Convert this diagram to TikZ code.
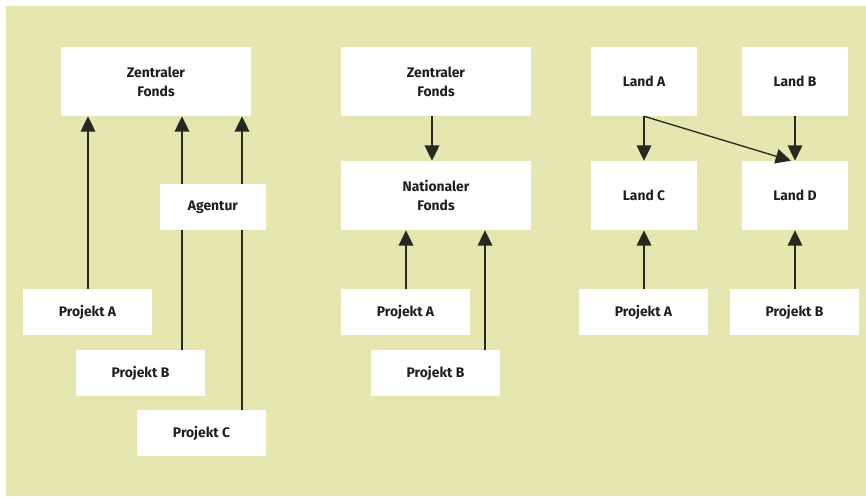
\documentclass[tikz,border=0pt]{standalone}
\usepackage{fontspec}
\setmainfont{Fira Sans}
\usetikzlibrary{arrows.meta,calc}
\definecolor{bgyellow}{RGB}{230,230,176}
\definecolor{linegray}{RGB}{40,40,35}
\begin{document}
\begin{tikzpicture}[x=0.75pt,y=-0.75pt,
  box/.style={fill=white,draw=none,inner sep=0pt,align=center,
    font=\bfseries\fontsize{10.4pt}{14.2pt}\selectfont,text=black!88},
  wide/.style={box,minimum width=142.5pt,minimum height=51.75pt},
  land/.style={box,minimum width=79.5pt,minimum height=51.75pt},
  agent/.style={box,minimum width=79.5pt,minimum height=34.5pt},
  proj/.style={box,minimum width=96.75pt,minimum height=34.5pt},
  conn/.style={draw=linegray,line width=1pt},
  arr/.style={conn,-{Triangle[width=11pt,length=11.5pt]}}]
\useasboundingbox (0,0) rectangle (866,496);
\fill[bgyellow] (6,6) rectangle (866,496);
% left group
\node[wide]  (ZF1) at (156,81.5) {Zentraler\\Fonds};
\node[agent] (AG)  at (213,207) {Agentur};
\node[proj]  (PA1) at (87.5,312) {Projekt A};
\node[proj]  (PB1) at (140.5,373) {Projekt B};
\node[proj]  (PC1) at (201.5,433) {Projekt C};
\coordinate (xa) at (88,0);
\coordinate (xb) at (182,0);
\coordinate (xc) at (242,0);
\draw[arr] (xa |- PA1.north) -- (xa |- ZF1.south);
\draw[conn] (xb |- PB1.north) -- (xb |- AG.south);
\draw[arr] (xb |- AG.north) -- (xb |- ZF1.south);
\draw[conn] (xc |- PC1.north) -- (xc |- AG.south);
\draw[arr] (xc |- AG.north) -- (xc |- ZF1.south);
% middle group
\node[wide] (ZF2) at (436,81.5) {Zentraler\\Fonds};
\node[wide] (NF)  at (436,195.5) {Nationaler\\Fonds};
\node[proj] (PA2) at (405.5,312) {Projekt A};
\node[proj] (PB2) at (435.5,373) {Projekt B};
\coordinate (xm) at (432,0);
\coordinate (xn) at (406,0);
\coordinate (xp) at (485,0);
\draw[arr] (xm |- ZF2.south) -- (xm |- NF.north);
\draw[arr] (xn |- PA2.north) -- (xn |- NF.south);
\draw[arr] (xp |- PB2.north) -- (xp |- NF.south);
% right group
\node[land] (LA) at (644,81.5) {Land A};
\node[land] (LB) at (795,81.5) {Land B};
\node[land] (LC) at (644,195.5) {Land C};
\node[land] (LD) at (795,195.5) {Land D};
\node[proj] (PA3) at (643.5,312) {Projekt A};
\node[proj] (PB3) at (794.5,312) {Projekt B};
\draw[arr] (LA.south) -- (LC.north);
\draw[arr] (LA.south) -- ($(LD.north)+(-4,0)$);
\draw[arr] (LB.south) -- (LD.north);
\draw[arr] (LC.south |- PA3.north) -- (LC.south);
\draw[arr] (LD.south |- PB3.north) -- (LD.south);
\end{tikzpicture}
\end{document}
